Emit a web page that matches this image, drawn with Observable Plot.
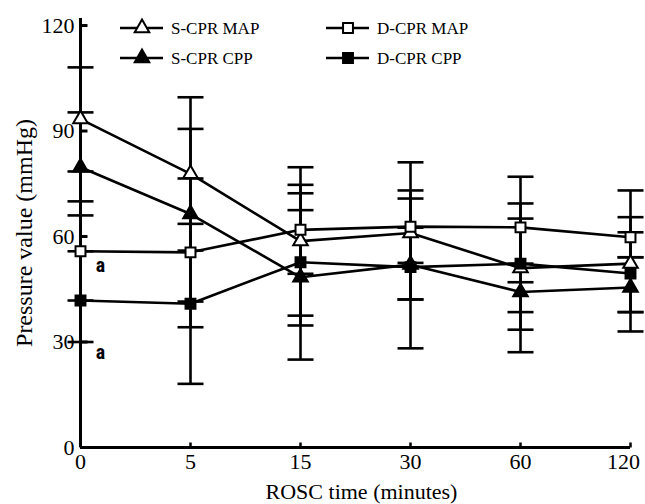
<!DOCTYPE html>
<html><head><meta charset="utf-8">
<script src="https://cdn.jsdelivr.net/npm/d3@7"></script>
<script src="https://cdn.jsdelivr.net/npm/@observablehq/plot@0.6"></script>
<style>
body{margin:0;background:#fff;}
#wrap{position:relative;width:645px;height:504px;overflow:hidden;background:#fff;}
#legend{position:absolute;left:0;top:0;}
</style></head><body><div id="wrap"></div>
<script>
// ---- data ----
const times = ["0", "5", "15", "30", "60", "120"];
const seriesNames = ["S-CPR MAP", "D-CPR MAP", "S-CPR CPP", "D-CPR CPP"];

const sMapMean = [93.4, 77.8, 58.7, 61.0, 51.0, 52.3];
const sMapLo   = [78.5, 56.0, 37.5, 42.1, 27.1, 38.5];
const sMapHi   = [108.1, 99.6, 79.7, 81.1, 77.0, 65.5];

const dMapMean = [55.8, 55.5, 61.9, 62.8, 62.6, 59.8];
const dMapLo   = [41.8, 34.2, 49.4, 52.5, 52.3, 54.1];
const dMapHi   = [70.0, 76.5, 74.7, 73.1, 69.4, 73.1];

const sCppMean = [79.7, 66.4, 48.4, 52.0, 44.2, 45.5];
const sCppLo   = [66.0, 41.5, 25.0, 28.2, 33.5, 38.5];
const sCppHi   = [95.3, 90.6, 72.3, 70.8, 47.0, 54.1];

const dCppMean = [41.8, 40.9, 52.7, 51.3, 52.3, 49.5];
const dCppLo   = [30.0, 18.1, 34.7, 42.1, 38.5, 33.0];
const dCppHi   = [55.8, 63.6, 67.5, 62.5, 65.1, 61.2];

const yTicks = [0, 30, 60, 90, 120];
const xTitle = "ROSC time (minutes)";
const yTitle = "Pressure value (mmHg)";
const noteTimes = ["0", "0"];
const noteValues = [51.8, 27.1];
const noteLabels = ["a", "a"];

// ---- build tables ----
const seriesData = [
  {name: seriesNames[0], mean: sMapMean, lo: sMapLo, hi: sMapHi, symbol: "triangle", fill: "white"},
  {name: seriesNames[1], mean: dMapMean, lo: dMapLo, hi: dMapHi, symbol: "square", fill: "white"},
  {name: seriesNames[2], mean: sCppMean, lo: sCppLo, hi: sCppHi, symbol: "triangle", fill: "black"},
  {name: seriesNames[3], mean: dCppMean, lo: dCppLo, hi: dCppHi, symbol: "square", fill: "black"}
];
const rows = seriesData.flatMap(s => times.map((t, i) => ({series: s.name, time: t, mean: s.mean[i], lo: s.lo[i], hi: s.hi[i]})));
const caps = rows.flatMap(r => [{time: r.time, v: r.lo}, {time: r.time, v: r.hi}]);
const notes = noteTimes.map((t, i) => ({time: t, v: noteValues[i], label: noteLabels[i]}));

const capSym = {draw(ctx) { ctx.moveTo(-13, 0); ctx.lineTo(13, 0); }};
const yTickSym = {draw(ctx) { ctx.moveTo(0, 0); ctx.lineTo(7, 0); }};
const xTickSym = {draw(ctx) { ctx.moveTo(0, 0); ctx.lineTo(0, -5); }};

const SERIF = "Liberation Serif";
const SW = 2.6;
const markerSizes = {triangle: 5.4, square: 5.6};
const lastTime = times[times.length - 1];

const chart = Plot.plot({
  width: 645,
  height: 504,
  marginLeft: 80,
  marginRight: 15,
  marginTop: 18,
  marginBottom: 57,
  style: {fontFamily: SERIF, fontSize: "22px", color: "black", background: "white"},
  x: {type: "point", domain: times, padding: 0, axis: null},
  y: {domain: [0, 122], axis: null},
  marks: [
    Plot.ruleY([0], {stroke: "black", strokeWidth: 3}),
    Plot.ruleX([times[0]], {stroke: "black", strokeWidth: 3}),
    Plot.dot(yTicks, {x: () => times[0], y: d => d, symbol: yTickSym, stroke: "black", strokeWidth: 3, fill: "none"}),
    Plot.dot(times, {x: d => d, y: () => 0, symbol: xTickSym, stroke: "black", strokeWidth: 2.5, fill: "none"}),
    Plot.text(yTicks, {x: () => times[0], y: d => d, text: d => String(d), textAnchor: "end", lineAnchor: "middle", dx: -6, fontFamily: SERIF, fontSize: 22, fill: "black"}),
    Plot.text(times.filter(t => t !== lastTime), {x: d => d, y: () => 0, text: d => d, textAnchor: "middle", lineAnchor: "middle", dy: 14, fontFamily: SERIF, fontSize: 22, fill: "black"}),
    Plot.text([lastTime], {x: d => d, y: () => 0, text: d => d, textAnchor: "middle", lineAnchor: "middle", dx: -7, dy: 14, fontFamily: SERIF, fontSize: 22, fill: "black"}),
    Plot.ruleX(rows, {x: "time", y1: "lo", y2: "hi", stroke: "black", strokeWidth: SW}),
    Plot.dot(caps, {x: "time", y: "v", symbol: capSym, stroke: "black", strokeWidth: SW, fill: "none"}),
    Plot.line(rows, {x: "time", y: "mean", z: "series", stroke: "black", strokeWidth: SW}),
    ...seriesData.map(s => Plot.dot(rows.filter(r => r.series === s.name), {
      x: "time", y: "mean", symbol: s.symbol, r: markerSizes[s.symbol], fill: s.fill, stroke: "black", strokeWidth: 2
    })),
    Plot.text(notes, {x: "time", y: "v", text: "label", dx: 20, fontFamily: "Roboto Condensed", fontWeight: "bold", fontSize: 20, fill: "black"}),
    Plot.text([xTitle], {frameAnchor: "bottom", textAnchor: "middle", lineAnchor: "middle", dx: 6, dy: 44, fontFamily: SERIF, fontSize: 22, fill: "black"}),
    Plot.text([yTitle], {frameAnchor: "left", textAnchor: "middle", lineAnchor: "middle", rotate: -90, dx: -56, fontFamily: SERIF, fontSize: 24, fill: "black"})
  ]
});
const wrap = document.getElementById("wrap");
wrap.appendChild(chart);

// ---- legend overlay ----
const legendPos = [
  {x: 120, y: 28}, {x: 326, y: 28}, {x: 120, y: 58}, {x: 326, y: 58}
];
const lg = d3.select(wrap).append("svg").attr("id", "legend").attr("width", 645).attr("height", 90);
seriesData.forEach((s, i) => {
  const p = legendPos[i];
  const g = lg.append("g").attr("transform", `translate(${p.x},${p.y})`);
  g.append("line").attr("x1", 0).attr("x2", 43).attr("y1", 0).attr("y2", 0).attr("stroke", "black").attr("stroke-width", SW);
  const rr = markerSizes[s.symbol];
  const sym = s.symbol === "triangle" ? d3.symbolTriangle : d3.symbolSquare;
  g.append("path").attr("d", d3.symbol(sym, rr * rr * Math.PI)()).attr("transform", "translate(22,0)")
    .attr("fill", s.fill).attr("stroke", "black").attr("stroke-width", 2);
  g.append("text").attr("x", 51).attr("y", 0).attr("dy", "0.35em")
    .attr("font-family", SERIF).attr("font-size", 17).attr("fill", "black")
    .text(s.name);
});
</script></body></html>
